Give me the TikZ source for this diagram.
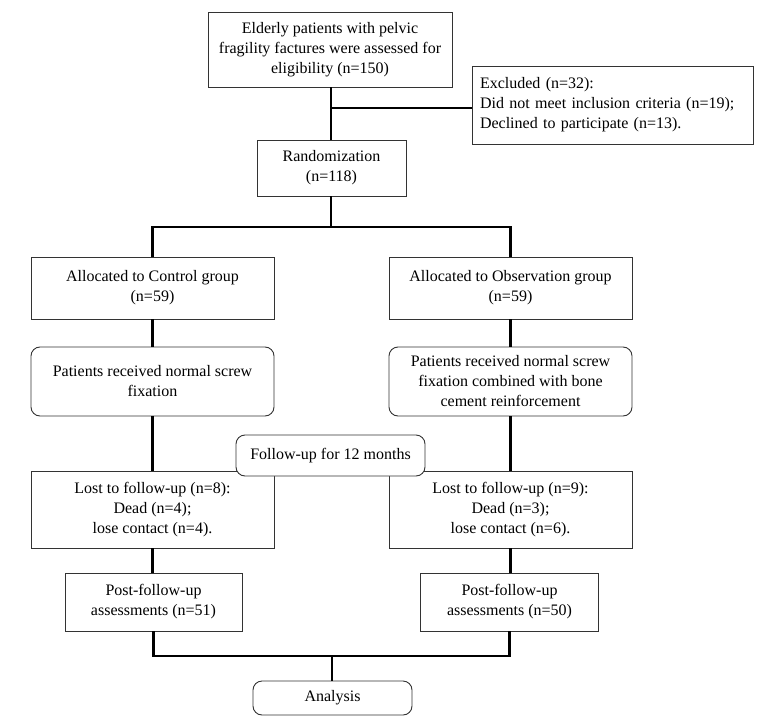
\documentclass[tikz,border=0pt]{standalone}
\usepackage{fontspec}
\setmainfont{Liberation Serif}
\begin{document}
\begin{tikzpicture}[x=1bp,y=-1bp,
  box/.style={draw=black!80,line width=0.9bp,fill=white,align=center,inner sep=2bp,
    font=\fontsize{16bp}{20bp}\selectfont},
  rbox/.style={box,rounded corners=9bp},
  conn/.style={line width=2.8bp,black}]
\useasboundingbox (0,0) rectangle (774,725);
% junction coordinates
\coordinate (j1) at (331,108);
\coordinate (j2) at (331,227);
\coordinate (j3) at (332,656);
% nodes
\node[box,minimum width=244bp,minimum height=75bp] (top) at (330,49.5)
  {Elderly patients with pelvic\\fragility factures were assessed for\\eligibility (n=150)};
\node[box,minimum width=281bp,minimum height=78bp,align=left,text width=265bp,inner sep=8bp] (excl) at (612.5,105)
  {Excluded (n=32):\\Did not meet inclusion criteria (n=19);\\Declined to participate (n=13).};
\node[box,minimum width=149bp,minimum height=56bp] (rand) at (331.5,168)
  {Randomization\\(n=118)};
\node[box,minimum width=243bp,minimum height=62bp] (ctrl) at (152.5,288)
  {Allocated to Control group\\(n=59)};
\node[box,minimum width=243bp,minimum height=62bp] (obs) at (510.5,288)
  {Allocated to Observation group\\(n=59)};
\node[rbox,minimum width=243bp,minimum height=69bp] (pl) at (152.5,381.5)
  {Patients received normal screw\\fixation};
\node[rbox,minimum width=243bp,minimum height=69bp] (pr) at (510.5,381.5)
  {Patients received normal screw\\fixation combined with bone\\cement reinforcement};
\node[box,minimum width=243bp,minimum height=77bp] (lostl) at (152.5,509.5)
  {Lost to follow-up (n=8):\\Dead (n=4);\\lose contact (n=4).};
\node[box,minimum width=243bp,minimum height=77bp] (lostr) at (510.5,509.5)
  {Lost to follow-up (n=9):\\Dead (n=3);\\lose contact (n=6).};
\node[rbox,minimum width=189bp,minimum height=41bp] (fu) at (330.5,455.5)
  {Follow-up for 12 months};
\node[box,minimum width=177bp,minimum height=58bp] (postl) at (153.5,602)
  {Post-follow-up\\assessments (n=51)};
\node[box,minimum width=178bp,minimum height=58bp] (postr) at (509.5,602)
  {Post-follow-up\\assessments (n=50)};
\node[rbox,minimum width=159bp,minimum height=34bp] (ana) at (332.5,698)
  {Analysis};
% connectors
\draw[conn] (top.south -| j1) -- (rand.north -| j1);
\draw[conn] (j1) -- (j1 -| excl.west);
\draw[conn] (rand.south -| j2) -- (j2);
\draw[conn] (ctrl.north) -- (ctrl.north |- j2) -- (obs.north |- j2) -- (obs.north);
\draw[conn] (ctrl.south) -- (pl.north);
\draw[conn] (obs.south) -- (pr.north);
\draw[conn] (pl.south) -- (lostl.north);
\draw[conn] (pr.south) -- (lostr.north);
\draw[conn] (lostl.south) -- (lostl.south |- postl.north);
\draw[conn] (lostr.south) -- (lostr.south |- postr.north);
\draw[conn] (postl.south) -- (postl.south |- j3) -- (postr.south |- j3) -- (postr.south);
\draw[conn] (j3) -- (ana.north -| j3);
\end{tikzpicture}
\end{document}
